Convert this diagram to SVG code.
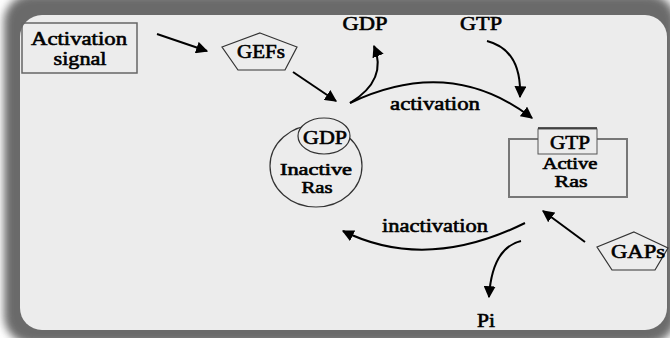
<svg xmlns="http://www.w3.org/2000/svg" width="670" height="338" viewBox="0 0 670 338" font-family="'Liberation Serif', 'DejaVu Serif', 'Times New Roman', serif">
<defs>
<filter id="blur" x="-5%" y="-5%" width="110%" height="110%"><feGaussianBlur stdDeviation="4"/></filter>
<marker id="ah" viewBox="0 0 10 10" refX="9" refY="5" markerWidth="6" markerHeight="6" orient="auto-start-reverse" markerUnits="strokeWidth">
<path d="M0,0 L10,5 L0,10 Z" fill="#000"/>
</marker>
</defs>
<style>
text{font-size:19px;fill:#000;stroke:#000;stroke-width:0.6;text-anchor:middle}
.small{font-size:16px}
.conn path{fill:none;stroke:#000;stroke-width:2;marker-end:url(#ah)}
.shape{fill:none;stroke:#333;stroke-width:1.2}
</style>
<rect width="670" height="338" fill="#fff"/>
<rect x="4" y="-6" width="672" height="350" rx="28" fill="#6a6a6a" filter="url(#blur)"/>
<rect x="20" y="15" width="647" height="315" rx="22" fill="#ececec"/>

<g id="activation-signal">
<rect x="22" y="23" width="115" height="50" fill="none" stroke="#666" stroke-width="1.5"/>
<text x="79" y="45" textLength="96" lengthAdjust="spacingAndGlyphs">Activation</text>
<text x="80" y="65" textLength="53" lengthAdjust="spacingAndGlyphs">signal</text>
</g>

<g id="gefs">
<polygon class="shape" points="260,33 297,47 285,70 238,70 222,47"/>
<text x="261" y="58" textLength="48" lengthAdjust="spacingAndGlyphs">GEFs</text>
</g>

<g id="gdp-top">
<text x="365" y="30" textLength="45" lengthAdjust="spacingAndGlyphs">GDP</text>
</g>
<g id="gtp-top">
<text x="481" y="30" textLength="42" lengthAdjust="spacingAndGlyphs">GTP</text>
</g>

<g id="inactive-ras">
<ellipse class="shape" cx="316" cy="166" rx="46" ry="41"/>
<ellipse cx="324" cy="136" rx="26" ry="18" fill="#ececec" stroke="#333" stroke-width="1.2"/>
<text x="325" y="144" textLength="44" lengthAdjust="spacingAndGlyphs">GDP</text>
<text class="small" x="316" y="175" textLength="72" lengthAdjust="spacingAndGlyphs">Inactive</text>
<text class="small" x="317" y="193" textLength="31" lengthAdjust="spacingAndGlyphs">Ras</text>
</g>

<g id="active-ras">
<path d="M538,139 H509 V197 H627 V139 H597" fill="none" stroke="#777" stroke-width="2"/>
<rect x="538" y="129" width="59" height="25" fill="none" stroke="#555" stroke-width="1"/>
<line x1="538" y1="128" x2="597" y2="128" stroke="#222" stroke-width="1.5"/>
<text x="570" y="149" textLength="40" lengthAdjust="spacingAndGlyphs">GTP</text>
<text class="small" x="570" y="169" textLength="55" lengthAdjust="spacingAndGlyphs">Active</text>
<text class="small" x="571" y="187" textLength="33" lengthAdjust="spacingAndGlyphs">Ras</text>
</g>

<g id="gaps">
<polygon class="shape" points="634,232 668,248 655,270 612,270 597,247"/>
<text x="638" y="258" textLength="54" lengthAdjust="spacingAndGlyphs">GAPs</text>
</g>

<g id="labels">
<text x="435" y="110" textLength="90" lengthAdjust="spacingAndGlyphs">activation</text>
<text x="435" y="232" textLength="106" lengthAdjust="spacingAndGlyphs">inactivation</text>
<text x="486" y="327" textLength="18" lengthAdjust="spacingAndGlyphs">Pi</text>
</g>

<g class="conn" id="connectors">
<path d="M157,34 L207,51"/>
<path d="M293,72 L336,101"/>
<path d="M350,103 Q388,80 374,46"/>
<path d="M350,103 Q450,55 532,118"/>
<path d="M487,41 Q522,50 520,97"/>
<path d="M525,223 Q426,272 343,231"/>
<path d="M521,241 Q492,248 489,297"/>
<path d="M585,242 L543,211"/>
</g>
</svg>
